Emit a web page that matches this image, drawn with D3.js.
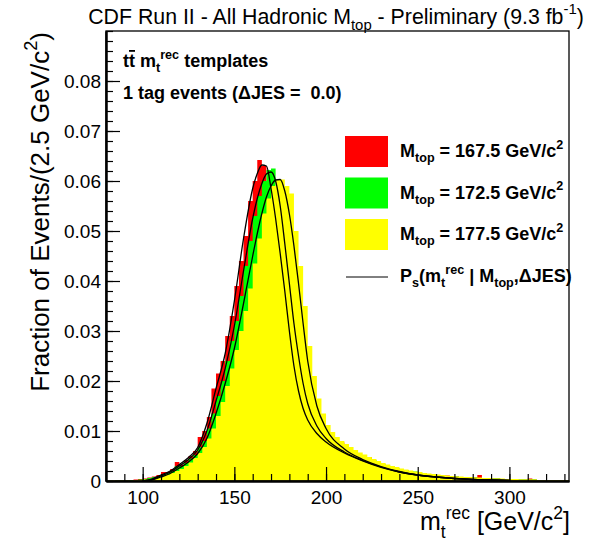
<!DOCTYPE html>
<html>
<head>
<meta charset="utf-8">
<script src="https://cdn.jsdelivr.net/npm/d3@7"></script>
<style>
body { margin: 0; background: #fff; }
svg { font-family: "Liberation Sans", Arial, sans-serif; }
</style>
</head>
<body>
<div id="chart"></div>
<script>
// histogram bins: 2.5 GeV wide, first bin starts at 80
var binStart = 80;
var binWidth = 2.5;

var red167 = [0,0,0.0001,0.0001,0.0002,0.0002,0.0003,0.0004,0.0005,0.0007,
	0.0009,0.0012,0.0018,0.0018,0.0024,0.0038,0.0033,0.0042,0.0050,0.0060,
	0.0088,0.0100,0.0128,0.0185,0.0215,0.0240,0.0290,0.0330,0.0390,0.0440,
	0.0490,0.0560,0.0600,0.0642,0.0630,0.0600,0.0560,0.0480,0.0410,0.0330,
	0.0260,0.0200,0.0160,0.0130,0.0110,0.0098,0.0090,0.0082,0.0078,0.0072,
	0.0070,0.0077,0.0062,0.0058,0.0054,0.0050,0.0046,0.0048,0.0040,0.0036,
	0.0032,0.0030,0.0028,0.0025,0.0024,0.0021,0.0019,0.0018,0.0016,0.0015,
	0.0014,0.0012,0.0012,0.0011,0.0011,0.0009,0.0009,0.0008,0.0008,0.0007,
	0.0007,0.0012,0.0006,0.0005,0.0005,0.0005,0.0004,0.0004,0.0004,0.0003,
	0.0003,0.0003,0.0005,0.0003,0.0002,0.0002,0.0002,0.0002,0.0002,0.0002,0.0001];

var green172 = [0,0,0.0001,0.0001,0.0001,0.0002,0.0002,0.0003,0.0004,0.0006,
	0.0008,0.0010,0.0013,0.0016,0.0020,0.0030,0.0030,0.0036,0.0045,0.0052,
	0.0068,0.0080,0.0105,0.0135,0.0170,0.0200,0.0240,0.0280,0.0320,0.0370,
	0.0430,0.0480,0.0530,0.0570,0.0600,0.0622,0.0625,0.0590,0.0550,0.0470,
	0.0390,0.0310,0.0240,0.0185,0.0150,0.0125,0.0105,0.0092,0.0085,0.0078,
	0.0072,0.0068,0.0064,0.0060,0.0055,0.0052,0.0048,0.0038,0.0042,0.0038,
	0.0034,0.0031,0.0029,0.0026,0.0024,0.0022,0.0020,0.0019,0.0017,0.0016,
	0.0014,0.0013,0.0012,0.0011,0.0010,0.0010,0.0009,0.0008,0.0008,0.0007,
	0.0007,0.0006,0.0006,0.0005,0.0005,0.0005,0.0004,0.0004,0.0004,0.0003,
	0.0003,0.0003,0.0003,0.0003,0.0002,0.0002,0.0002,0.0002,0.0002,0.0002,0.0001];

var yellow177 = [0.0001,0.0001,0.0001,0.0001,0.0001,0.0001,0.0002,0.0002,0.0003,0.0004,
	0.0006,0.0008,0.0010,0.0013,0.0016,0.0020,0.0024,0.0030,0.0037,0.0046,
	0.0056,0.0068,0.0085,0.0105,0.0130,0.0158,0.0190,0.0225,0.0262,0.0300,
	0.0340,0.0385,0.0435,0.0485,0.0535,0.0565,0.0590,0.0603,0.0603,0.0590,
	0.0575,0.0500,0.0430,0.0350,0.0270,0.0210,0.0165,0.0135,0.0112,0.0098,
	0.0088,0.0080,0.0074,0.0068,0.0062,0.0057,0.0053,0.0048,0.0044,0.0040,
	0.0036,0.0033,0.0030,0.0028,0.0025,0.0023,0.0021,0.0019,0.0018,0.0016,
	0.0015,0.0014,0.0013,0.0012,0.0011,0.0010,0.0009,0.0009,0.0008,0.0008,
	0.0007,0.0007,0.0006,0.0006,0.0005,0.0005,0.0005,0.0004,0.0004,0.0004,
	0.0003,0.0003,0.0003,0.0003,0.0002,0.0002,0.0002,0.0002,0.0002,0.0002,0.0002];

// signal p.d.f. curves
var fitMass = [100,105,110,115,120,125,130,135,140,145,150,155,160,162.5,165,167.5,170,
	172.5,175,177.5,180,182.5,185,187.5,190,195,200,210,220,230,240,250,260,270,280,290,300];
var fit167 = [0,0.0004,0.0012,0.0020,0.0033,0.0047,0.0067,0.0115,0.0185,0.0255,0.0360,0.0485,0.0585,0.0615,0.0632,0.0630,0.0585,
	0.0525,0.0455,0.0380,0.0300,0.0230,0.0180,0.0145,0.0122,0.0095,0.0078,0.0056,0.0040,0.0027,0.0018,0.0012,0.0008,0.0005,0.0003,0.0002,0.0001];
var fit172 = [0,0.0003,0.0010,0.0018,0.0030,0.0043,0.0062,0.0100,0.0160,0.0225,0.0310,0.0420,0.0525,0.0565,0.0595,0.0614,0.0618,
	0.0600,0.0550,0.0475,0.0395,0.0315,0.0250,0.0195,0.0155,0.0110,0.0085,0.0058,0.0041,0.0028,0.0018,0.0012,0.0008,0.0005,0.0003,0.0002,0.0001];
var fit177 = [0,0.0002,0.0008,0.0015,0.0026,0.0038,0.0055,0.0085,0.0135,0.0195,0.0265,0.0355,0.0450,0.0495,0.0535,0.0568,0.0590,
	0.0602,0.0603,0.0580,0.0534,0.0470,0.0395,0.0315,0.0240,0.0150,0.0105,0.0064,0.0043,0.0029,0.0019,0.0012,0.0008,0.0005,0.0003,0.0002,0.0001];

var xTicks = [100, 150, 200, 250, 300];
var yTicks = [0, 0.01, 0.02, 0.03, 0.04, 0.05, 0.06, 0.07, 0.08];
var yTickLabels = ["0", "0.01", "0.02", "0.03", "0.04", "0.05", "0.06", "0.07", "0.08"];
var legendLabels = ["167.5", "172.5", "177.5"];

var svg = d3.select("#chart")
	.append("svg")
	.attr("width", 599)
	.attr("height", 543);

var x = d3.scaleLinear().domain([80, 332.5]).range([106, 569]);
var y = d3.scaleLinear().domain([0, 0.09]).range([481, 31]);

svg.append("clipPath").attr("id", "frame")
	.append("rect")
	.attr("x", 106).attr("y", 31)
	.attr("width", 463).attr("height", 450);

var plot = svg.append("g").attr("clip-path", "url(#frame)");

// turn a value array into step points
function binPoints(vals) {
	var pts = vals.map(function(v, i) { return {m: binStart + i * binWidth, v: v}; });
	pts.push({m: binStart + vals.length * binWidth, v: vals[vals.length - 1]});
	return pts;
}

var area = d3.area()
	.x(function(d) { return x(d.m); })
	.y0(y(0))
	.y1(function(d) { return y(d.v); })
	.curve(d3.curveStepAfter);

var hists = [[red167, "#ff0000"], [green172, "#00ff00"], [yellow177, "#ffff00"]];
hists.forEach(function(h) {
	plot.append("path")
		.attr("d", area(binPoints(h[0])))
		.style("fill", h[1])
		.style("stroke", "none");
});

var line = d3.line()
	.x(function(d) { return x(d[0]); })
	.y(function(d) { return y(d[1]); })
	.curve(d3.curveMonotoneX);

[fit167, fit172, fit177].forEach(function(f) {
	plot.append("path")
		.attr("d", line(d3.zip(fitMass, f)))
		.style("fill", "none")
		.style("stroke", "#000")
		.style("stroke-width", 1.3);
});

// frame
svg.append("rect")
	.attr("x", 106).attr("y", 31)
	.attr("width", 463).attr("height", 450)
	.style("fill", "none")
	.style("stroke", "#000")
	.style("stroke-width", 1.3);

// y axis, ticks point into the frame
var yMinor = d3.range(0, 0.0901, 0.002);
svg.append("g").attr("transform", "translate(106,0)")
	.call(d3.axisLeft(y).tickValues(yMinor).tickSize(-7).tickSizeOuter(0).tickFormat(""));
svg.append("g").attr("class", "yaxis").attr("transform", "translate(106,0)")
	.call(d3.axisLeft(y).tickValues(yTicks).tickSize(-14).tickSizeOuter(0).tickPadding(5)
		.tickFormat(function(d, i) { return yTickLabels[i]; }));

var xMinor = d3.range(90, 332, 10);
svg.append("g").attr("transform", "translate(0,481)")
	.call(d3.axisBottom(x).tickValues(xMinor).tickSize(-7).tickSizeOuter(0).tickFormat(""));
svg.append("g").attr("class", "xaxis").attr("transform", "translate(0,481)")
	.call(d3.axisBottom(x).tickValues(xTicks).tickSize(-14).tickSizeOuter(0).tickPadding(10));

svg.selectAll(".domain").style("stroke-width", 2);
svg.selectAll(".tick line").style("stroke-width", 1.2);
svg.selectAll(".xaxis text, .yaxis text")
	.style("font-family", "Liberation Sans, Arial, sans-serif")
	.style("font-size", "19px")
	.style("fill", "#000");

// text helper: parts are [string, "sub" | "sup" | ""]
function rich(sel, parts, size) {
	var shift = 0;
	parts.forEach(function(p) {
		var t = sel.append("tspan").text(p[0]);
		var target = p[1] == "sub" ? 0.3 * size : p[1] == "sup" ? -0.45 * size : 0;
		t.attr("dy", target - shift);
		if (p[1]) t.style("font-size", (size * 0.7) + "px");
		shift = target;
	});
	return sel;
}

// title
rich(svg.append("text").attr("x", 336).attr("y", 24).attr("text-anchor", "middle")
	.style("font-size", "21.3px"),
	[["CDF Run II - All Hadronic M", ""], ["top", "sub"], [" - Preliminary (9.3 fb", ""], ["-1", "sup"], [")", ""]], 21.3);

// labels inside the frame
var note = svg.append("text").attr("x", 123).attr("y", 67)
	.style("font-size", "18px").style("font-weight", "bold");
note.append("tspan").text("t");
note.append("tspan").text("t").style("text-decoration", "overline");
rich(note, [[" m", ""], ["t", "sub"], ["rec", "sup"], [" templates", ""]], 18);

svg.append("text").attr("x", 123).attr("y", 99)
	.style("font-size", "18px").style("font-weight", "bold")
	.style("white-space", "pre")
	.text("1 tag events (\u0394JES =  0.0)");

// legend
var legendColors = ["#ff0000", "#00ff00", "#ffff00"];
legendLabels.forEach(function(lab, i) {
	var top = 136 + i * 41.5;
	svg.append("rect")
		.attr("x", 345).attr("y", top)
		.attr("width", 43).attr("height", 31)
		.style("fill", legendColors[i]);
	rich(svg.append("text").attr("x", 400).attr("y", top + 21)
		.style("font-size", "18px").style("font-weight", "bold"),
		[["M", ""], ["top", "sub"], [" = " + lab + " GeV/c", ""], ["2", "sup"]], 18);
});
svg.append("line")
	.attr("x1", 346).attr("x2", 388).attr("y1", 277).attr("y2", 277)
	.style("stroke", "#000").style("stroke-width", 1);
rich(svg.append("text").attr("x", 400).attr("y", 282)
	.style("font-size", "18px").style("font-weight", "bold"),
	[["P", ""], ["s", "sub"], ["(m", ""], ["t", "sub"], ["rec", "sup"], [" | M", ""], ["top", "sub"], [",\u0394JES)", ""]], 18);

// axis titles
rich(svg.append("text").attr("transform", "translate(49,32) rotate(-90)")
	.attr("text-anchor", "end").style("font-size", "26px"),
	[["Fraction of Events/(2.5 GeV/c", ""], ["2", "sup"], [")", ""]], 26);

rich(svg.append("text").attr("x", 570).attr("y", 530)
	.attr("text-anchor", "end").style("font-size", "25px"),
	[["m", ""], ["t", "sub"], ["rec", "sup"], [" [GeV/c", ""], ["2", "sup"], ["]", ""]], 25);
</script>
</body>
</html>
